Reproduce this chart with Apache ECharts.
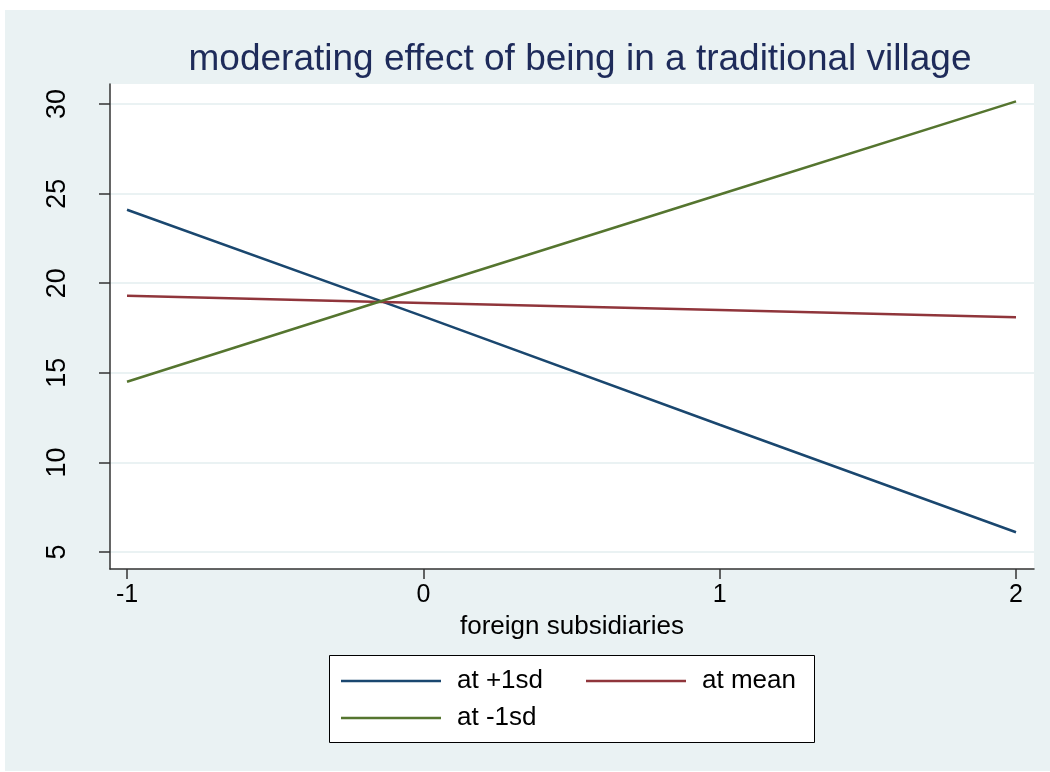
<!DOCTYPE html>
<html>
<head>
<meta charset="utf-8">
<script src="https://cdn.jsdelivr.net/npm/echarts@6/dist/echarts.min.js"></script>
<style>
  html, body { margin: 0; padding: 0; background: #ffffff; }
  #chart { width: 1050px; height: 772px; }
</style>
</head>
<body>
<div id="chart"></div>
<script>
// values
const xValues = [-1, 0, 1, 2];
const atPlus1sd = [24.1, 18.15, 12.1, 6.1];
const atMean = [19.3, 18.9, 18.5, 18.1];
const atMinus1sd = [14.5, 19.75, 24.95, 30.15];
const xTicks = [-1, 0, 1, 2];
const yTicks = [5, 10, 15, 20, 25, 30];

const pairs = (ys) => xValues.map((x, i) => [x, ys[i]]);

const chart = echarts.init(document.getElementById('chart'));
const font = '"Liberation Sans", Arial, sans-serif';

const legendText = { color: '#000', fontSize: 26, lineHeight: 26, padding: [0, 0, 0, 11], fontFamily: font };

const option = {
  animation: false,
  textStyle: { fontFamily: font },
  graphic: [
    { type: 'rect', z: -10, shape: { x: 5, y: 10, width: 1045, height: 761 }, style: { fill: '#eaf2f3' } },
    { type: 'rect', z: 1, shape: { x: 329.5, y: 655.5, width: 485, height: 87 }, style: { fill: '#ffffff', stroke: '#000000', lineWidth: 1 } }
  ],
  title: {
    text: 'moderating effect of being in a traditional village',
    left: 575,
    textAlign: 'center',
    top: 36,
    textStyle: { color: '#1e2b5a', fontSize: 37, fontWeight: 'normal', fontFamily: font }
  },
  grid: {
    left: 110, right: 16, top: 84, bottom: 203,
    show: true, backgroundColor: '#ffffff', borderWidth: 0
  },
  xAxis: {
    type: 'value',
    min: -1.0574, max: 2.0607,
    name: 'foreign subsidiaries',
    nameLocation: 'middle',
    nameGap: 45,
    nameTextStyle: { color: '#000', fontSize: 26, fontFamily: font },
    axisLine: { show: true, onZero: false, lineStyle: { color: '#333', width: 1.5 } },
    axisTick: { show: true, length: 10, customValues: xTicks, lineStyle: { color: '#333', width: 1.5 } },
    axisLabel: { customValues: xTicks, color: '#000', fontSize: 25, margin: 14, fontFamily: font },
    splitLine: { show: false }
  },
  yAxis: {
    type: 'value',
    min: 4.05, max: 31.12,
    axisLine: { show: true, onZero: false, lineStyle: { color: '#333', width: 1.5 } },
    axisTick: { show: true, length: 11, customValues: yTicks, lineStyle: { color: '#333', width: 1.5 } },
    axisLabel: { customValues: yTicks, color: '#000', fontSize: 27, rotate: 90, margin: 39, fontFamily: font },
    splitLine: { show: true, lineStyle: { color: '#eaf2f3', width: 2 } }
  },
  legend: [
    {
      data: ['at +1sd', 'at -1sd'],
      orient: 'vertical',
      left: 341, top: 668,
      padding: 0,
      icon: 'rect',
      itemWidth: 100, itemHeight: 2.5, itemGap: 11,
      textStyle: legendText
    },
    {
      data: ['at mean'],
      orient: 'vertical',
      left: 586, top: 668,
      padding: 0,
      icon: 'rect',
      itemWidth: 100, itemHeight: 2.5, itemGap: 11,
      textStyle: legendText
    }
  ],
  series: [
    { name: 'at +1sd', type: 'line', data: pairs(atPlus1sd), symbol: 'none', color: '#1a476f', lineStyle: { width: 2.5 } },
    { name: 'at mean', type: 'line', data: pairs(atMean), symbol: 'none', color: '#90353b', lineStyle: { width: 2.5 } },
    { name: 'at -1sd', type: 'line', data: pairs(atMinus1sd), symbol: 'none', color: '#55752f', lineStyle: { width: 2.5 } }
  ]
};
chart.setOption(option);
</script>
</body>
</html>
